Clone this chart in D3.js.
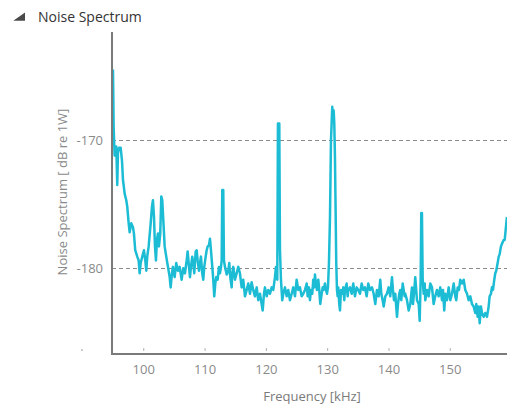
<!DOCTYPE html>
<html>
<head>
<meta charset="utf-8">
<script src="https://cdn.jsdelivr.net/npm/d3@7"></script>
<style>
  html, body { margin: 0; padding: 0; background: #fff; }
  svg { display: block; font-family: "Open Sans", "Noto Sans", sans-serif; }
</style>
</head>
<body>
<svg id="chart" width="507" height="406"></svg>
<script>
// Noise spectrum trace: frequency (kHz) and level (dB re 1W)
const freqKHz = [
  95.06, 95.17, 95.33, 95.60, 95.76, 95.87, 96.04, 96.31, 96.53, 96.69,
  96.97, 97.23, 97.39, 97.62, 97.78, 98.04, 98.32, 98.48, 98.69, 99.02,
  99.25, 99.41, 99.58, 99.84, 100.11, 100.33, 100.49, 100.65, 100.88, 101.21,
  101.42, 101.58, 101.75, 101.91, 102.07, 102.23, 102.40, 102.56, 102.77, 102.94,
  103.10, 103.33, 103.49, 103.75, 104.03, 104.31, 104.47, 104.68, 104.84, 105.12,
  105.38, 105.66, 105.94,
  106.26, 106.53, 106.80, 107.08, 107.24, 107.46, 107.62, 107.78, 107.99, 108.16,
  108.32, 108.55, 108.71, 108.87, 109.09, 109.25, 109.41, 109.62, 109.79, 109.95,
  110.18, 110.34, 110.51, 110.72, 110.88, 111.04, 111.26, 111.42, 111.58, 111.75,
  111.91, 112.14, 112.35, 112.51, 112.68, 112.79, 112.89, 113.05, 113.16, 113.33,
  113.61, 113.87, 114.03, 114.19, 114.42, 114.52, 114.68, 114.96, 115.24, 115.50,
  115.77, 116.05, 116.31, 116.59, 116.87, 117.13, 117.41, 117.68, 117.94, 118.22,
  118.50, 118.76, 119.04, 119.31, 119.48, 119.69, 119.85, 120.13, 120.39, 120.67,
  120.95, 121.21, 121.48, 121.65, 121.86, 121.97, 122.19, 122.30, 122.46, 122.67,
  122.84, 123.12, 123.39, 123.65, 123.93, 124.21, 124.47, 124.75, 125.02, 125.29,
  125.56, 125.84, 126.10,
  126.38, 126.66, 126.82, 127.03, 127.19, 127.36, 127.57, 127.73, 127.90, 128.01,
  128.17, 128.34, 128.55, 128.71, 128.87, 129.10, 129.27, 129.43, 129.64, 129.80,
  129.97, 130.13, 130.29, 130.46, 130.62, 130.73, 130.83, 130.95, 131.06, 131.16,
  131.27, 131.39, 131.48, 131.60, 131.71, 131.81, 131.97, 132.09, 132.25, 132.46,
  132.63, 132.79, 132.90, 133.18, 133.34, 133.44, 133.72, 134.00, 134.26, 134.53,
  134.81, 135.07, 135.35, 135.63, 135.89, 136.17, 136.44, 136.70, 136.98,
  137.31, 137.58, 137.85, 138.12, 138.40, 138.66, 138.83, 139.05, 139.22, 139.48,
  139.75, 140.03, 140.29, 140.57, 140.73, 140.90, 141.11, 141.39, 141.55, 141.76,
  141.92, 142.09, 142.32, 142.48, 142.64, 142.74, 143.02, 143.30, 143.56, 143.83,
  144.00, 144.21, 144.37, 144.65, 144.93, 145.09, 145.25, 145.35, 145.46, 145.58,
  145.74, 145.91, 146.00, 146.28, 146.56, 146.82, 147.10, 147.37, 147.63,
  147.91, 148.19, 148.45, 148.73, 148.89, 149.10, 149.27, 149.54, 149.82, 150.08,
  150.36, 150.64, 150.90, 151.06, 151.29, 151.50, 151.71, 151.99, 152.27, 152.53,
  152.81, 153.08, 153.35, 153.62, 153.90, 154.16, 154.32, 154.55, 154.71, 154.88,
  155.09, 155.25, 155.53, 155.79, 156.07, 156.34, 156.50, 156.72, 156.88, 157.05,
  157.26, 157.42, 157.58, 157.81, 157.98, 158.14, 158.35, 158.52, 158.79, 158.96,
  159.12, 159.22, 159.33
];
const noiseDb = [
  -164.5, -169.0, -171.2, -170.5, -173.5, -171.0, -170.6, -170.6, -171.6, -173.1,
  -174.2, -174.7, -175.2, -176.5, -177.2, -176.5, -176.8, -177.3, -178.6, -179.1,
  -179.4, -180.4, -179.6, -179.1, -178.6, -179.4, -180.2, -179.1, -178.3, -176.5,
  -175.2, -174.7, -176.0, -178.3, -179.4, -177.8, -177.3, -178.3, -177.3, -174.4,
  -174.7, -176.8, -178.3, -179.1, -179.9, -180.7, -181.5, -180.4, -179.9, -180.7,
  -179.6, -180.2, -179.9,
  -180.9, -180.0, -180.4, -179.4, -178.7, -179.9, -180.7, -179.9, -179.1, -179.6,
  -180.4, -178.7, -178.6, -179.4, -180.2, -179.6, -179.1, -180.4, -180.9, -179.9,
  -179.1, -178.6, -178.3, -178.2, -177.7, -178.6, -179.9, -180.9, -182.2, -181.2,
  -180.7, -180.9, -179.9, -180.4, -179.9, -179.4, -173.9, -173.9, -179.4, -179.9,
  -180.5, -180.2, -179.6, -180.7, -181.5, -180.4, -179.9, -180.9, -180.4, -179.9,
  -180.4, -181.5, -180.9, -182.2, -181.7, -181.2, -182.0, -181.1, -181.7, -182.2,
  -181.5, -182.5, -182.0, -182.8, -183.3, -182.0, -181.5, -182.2, -181.7, -182.0,
  -181.5, -181.7, -180.7, -179.9, -180.9, -168.7, -168.7, -178.6, -180.9, -182.5,
  -182.0, -181.5, -182.2, -181.7, -182.5, -182.0, -181.5, -182.2, -180.9, -181.7,
  -181.5, -182.2, -182.0,
  -181.7, -181.2, -182.2, -181.5, -182.5, -181.7, -182.0, -180.9, -181.5, -180.5,
  -181.2, -181.7, -180.9, -181.7, -182.8, -182.0, -181.5, -181.7, -181.2, -181.7,
  -182.0, -181.5, -179.6, -176.0, -170.0, -168.7, -167.4, -168.2, -167.7, -168.7,
  -171.3, -176.0, -179.6, -181.7, -182.2, -181.5, -182.8, -183.3, -181.7, -182.0,
  -181.5, -182.5, -181.7, -181.2, -182.2, -181.7, -181.5, -182.0, -181.2, -182.2,
  -181.5, -181.7, -182.0, -181.2, -181.7, -181.5, -182.2, -181.2, -181.7,
  -181.5, -182.0, -182.8, -181.7, -182.2, -180.9, -182.0, -182.5, -183.0, -182.2,
  -182.0, -181.5, -182.2, -180.7, -181.7, -182.5, -182.0, -183.8, -182.8, -182.0,
  -181.7, -182.5, -181.2, -181.7, -182.2, -182.0, -182.5, -183.3, -182.8, -181.5,
  -182.8, -181.7, -180.7, -182.5, -182.8, -184.1, -180.9, -175.7, -175.7, -180.9,
  -182.0, -181.2, -182.5, -181.7, -182.2, -181.2, -181.5, -182.8, -182.2,
  -181.7, -182.2, -181.5, -182.5, -181.7, -183.3, -182.0, -182.5, -181.5, -182.5,
  -182.0, -181.2, -182.2, -182.5, -181.5, -181.7, -180.9, -181.2, -180.9, -181.7,
  -182.0, -182.5, -182.2, -182.8, -183.0, -183.5, -182.8, -183.8, -183.0, -184.3,
  -183.0, -183.5, -183.8, -183.5, -183.8, -183.0, -182.2, -182.0, -181.5, -181.7,
  -180.9, -180.4, -180.2, -179.6, -179.1, -178.9, -178.3, -178.1, -177.8, -177.8,
  -177.0, -176.5, -176.0
];

const xTicks = [100, 110, 120, 130, 140, 150];
const yTicks = [-170, -180];
const xDomain = [94.9, 159.4];
const yDomain = [-186.7, -161.8];

const svg = d3.select("#chart");

const plot = { left: 112, right: 507.4, top: 35, bottom: 354 };

const x = d3.scaleLinear().domain(xDomain).range([plot.left, plot.right]);
const y = d3.scaleLinear().domain(yDomain).range([plot.bottom, plot.top]);

// Panel header with collapse triangle
svg.append("path")
  .attr("d", "M25,12.5 L25,20.7 L13.3,20.7 Z")
  .attr("fill", "#4a4a4a");
svg.append("text")
  .attr("x", 38).attr("y", 22)
  .attr("font-size", 14)
  .attr("fill", "#333")
  .text("Noise Spectrum");

// Dashed horizontal gridlines
svg.append("g")
  .selectAll("line")
  .data(yTicks)
  .join("line")
  .attr("x1", plot.left).attr("x2", 507)
  .attr("y1", d => Math.round(y(d)) + 0.5)
  .attr("y2", d => Math.round(y(d)) + 0.5)
  .attr("stroke", "#8a8a8a")
  .attr("stroke-width", 1)
  .attr("stroke-dasharray", "4,3");

// Spectrum trace
const line = d3.line()
  .x((d, i) => x(freqKHz[i]))
  .y(d => y(d));

svg.append("path")
  .datum(noiseDb)
  .attr("d", line)
  .attr("fill", "none")
  .attr("stroke", "#1bbcd4")
  .attr("stroke-width", 2.5)
  .attr("stroke-linejoin", "round");

// X axis: small tick marks above the baseline, labels below
const xAxis = d3.axisBottom(x)
  .tickValues(xTicks)
  .tickSize(3)
  .tickPadding(14)
  .tickFormat(d => String(d));

const gx = svg.append("g")
  .attr("transform", `translate(0,${plot.bottom - 6})`)
  .call(xAxis);
gx.select(".domain").remove();
gx.selectAll(".tick line").attr("stroke", "#b0b0b0");
gx.selectAll(".tick text")
  .attr("font-size", 13)
  .attr("font-family", "\"Open Sans\", sans-serif")
  .attr("fill", "#8a8a8a");

// Y axis labels
const yAxis = d3.axisLeft(y)
  .tickValues(yTicks)
  .tickSize(0)
  .tickPadding(9)
  .tickFormat(d => String(d));

const gy = svg.append("g")
  .attr("transform", `translate(${plot.left},0)`)
  .call(yAxis);
gy.select(".domain").remove();
gy.selectAll(".tick text")
  .attr("font-size", 13)
  .attr("font-family", "\"Open Sans\", sans-serif")
  .attr("fill", "#8a8a8a");

// Frame lines (left and bottom)
svg.append("line")
  .attr("x1", plot.left).attr("x2", plot.left)
  .attr("y1", 32).attr("y2", plot.bottom + 1)
  .attr("stroke", "#7a7a7a").attr("stroke-width", 2);
svg.append("line")
  .attr("x1", plot.left - 1).attr("x2", 507)
  .attr("y1", plot.bottom).attr("y2", plot.bottom)
  .attr("stroke", "#7a7a7a").attr("stroke-width", 2);

// Small tick mark left of the frame bottom
svg.append("line")
  .attr("x1", 82).attr("x2", 82)
  .attr("y1", 349).attr("y2", 351)
  .attr("stroke", "#999").attr("stroke-width", 1);

// Axis titles
svg.append("text")
  .attr("transform", "translate(67,192) rotate(-90)")
  .attr("text-anchor", "middle")
  .attr("font-size", 13)
  .attr("fill", "#8a8a8a")
  .text("Noise Spectrum [ dB re 1W]");

svg.append("text")
  .attr("x", 312).attr("y", 401)
  .attr("text-anchor", "middle")
  .attr("font-size", 13)
  .attr("fill", "#7a7a7a")
  .text("Frequency [kHz]");
</script>
</body>
</html>
